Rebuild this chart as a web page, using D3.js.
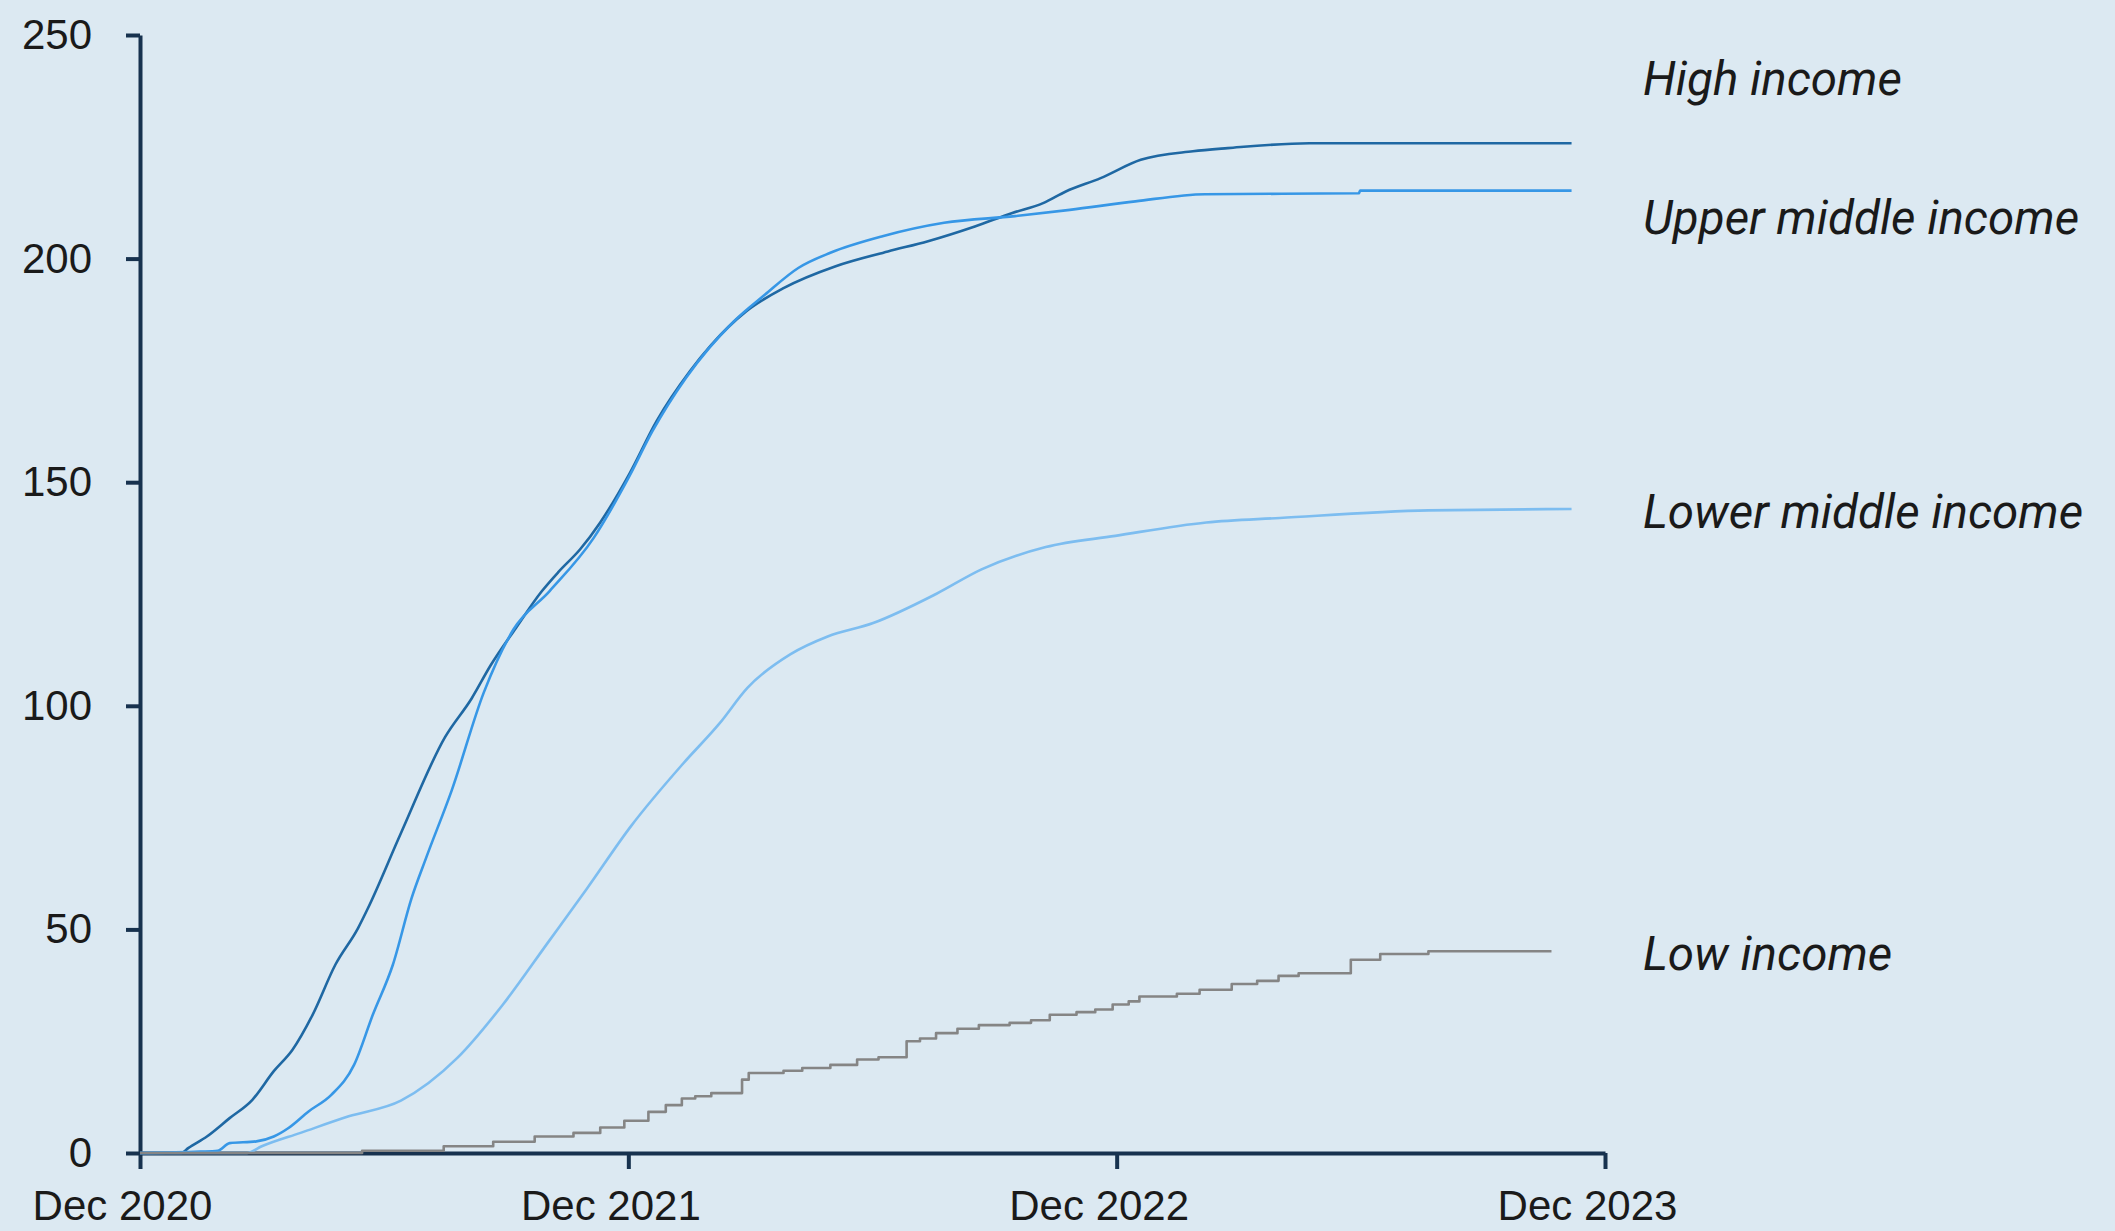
<!DOCTYPE html>
<html>
<head>
<meta charset="utf-8">
<script src="https://cdn.jsdelivr.net/npm/d3@7"></script>
<style>
  html, body { margin: 0; padding: 0; background: #dce9f2; }
  svg { display: block; }
</style>
</head>
<body>
<div id="chart"></div>
<script>
// cumulative counts by income group, Dec 2020 – Dec 2023

const yTicks = [0, 50, 100, 150, 200, 250];
const xTicks = ["2020-12-01", "2021-12-01", "2022-12-01", "2023-12-01"];

const highDates = ["2020-12-01","2021-01-01","2021-01-06","2021-01-20","2021-02-06","2021-02-23","2021-03-11","2021-03-25","2021-04-09","2021-04-26","2021-05-13","2021-05-20","2021-06-14","2021-07-17","2021-08-06","2021-08-20","2021-09-08","2021-09-27","2021-10-10","2021-10-26","2021-11-10","2021-12-02","2021-12-22","2022-01-16","2022-02-01","2022-02-27","2022-03-27","2022-05-05","2022-06-13","2022-07-13","2022-08-17","2022-09-14","2022-10-07","2022-10-24","2022-11-19","2022-12-19","2023-01-27","2023-02-22","2023-04-24","2023-11-06"];
const highValues = [0,0,1.1,3.7,7.8,11.9,18.3,23.1,30.9,42.1,50.3,54.5,71.5,93.0,101.7,109.0,117.4,125.5,130,135,141,152,163.6,174.8,180.7,188.2,193.4,198.3,201.6,203.9,207.2,210.2,212.4,215.0,218.0,222.1,224.0,224.7,225.8,225.8];

const upperDates = ["2020-12-01","2021-01-15","2021-01-28","2021-02-06","2021-02-26","2021-03-11","2021-03-22","2021-04-06","2021-04-23","2021-05-10","2021-05-24","2021-06-08","2021-06-22","2021-07-03","2021-07-22","2021-08-15","2021-09-06","2021-10-03","2021-11-05","2021-12-01","2021-12-19","2022-01-13","2022-02-18","2022-03-13","2022-04-07","2022-05-01","2022-06-09","2022-07-25","2022-09-16","2022-10-27","2022-12-15","2023-02-05","2023-05-31","2023-06-01","2023-11-06"];
const upperValues = [0,0.3,0.5,2.2,2.6,3.7,5.6,9.3,13.0,19.7,30.9,42.1,57,66.1,81.1,103.0,117.0,125.6,137.5,150.9,161.4,173.3,186.0,191.9,197.9,201.3,205.0,208.0,209.5,210.9,212.8,214.4,214.6,215.2,215.2];

const lowerDates = ["2020-12-01","2021-02-19","2021-03-02","2021-03-31","2021-05-06","2021-06-14","2021-07-26","2021-08-29","2021-10-02","2021-10-31","2021-12-03","2022-01-11","2022-02-07","2022-02-28","2022-04-01","2022-04-29","2022-06-02","2022-07-19","2022-08-22","2022-10-09","2022-11-30","2023-02-06","2023-04-02","2023-07-22","2023-11-06"];
const lowerValues = [0,0,1.5,4.5,8.2,11.7,21.2,33.1,47.1,59.1,73.1,87.1,96.0,104.0,111.5,115.5,118.5,125.0,130.5,135.5,138.0,141.0,142.0,143.7,144.0];

const lowDates = ["2020-12-01","2021-04-01","2021-05-16","2021-07-16","2021-08-22","2021-09-22","2021-10-21","2021-11-10","2021-11-28","2021-12-16","2021-12-29","2022-01-10","2022-01-20","2022-02-01","2022-02-24","2022-03-01","2022-03-27","2022-04-10","2022-05-01","2022-05-21","2022-06-06","2022-06-27","2022-07-07","2022-07-19","2022-08-04","2022-08-20","2022-09-12","2022-09-28","2022-10-12","2022-11-01","2022-11-15","2022-11-28","2022-12-10","2022-12-18","2023-01-15","2023-02-01","2023-02-25","2023-03-16","2023-04-01","2023-04-16","2023-05-25","2023-06-16","2023-07-22","2023-10-22"];
const lowValues = [0,0,0.5,1.5,2.5,3.7,4.5,5.7,7.2,9.2,10.7,12.2,12.7,13.4,16.4,17.9,18.4,19.0,19.7,20.9,21.4,25.0,25.6,26.8,27.8,28.6,29.1,29.7,30.9,31.5,32.1,33.2,33.9,35.0,35.6,36.5,37.8,38.5,39.6,40.2,43.2,44.5,45.1,45.1];

const seriesNames = ["High income", "Upper middle income", "Lower middle income", "Low income"];

const parse = d3.timeParse("%Y-%m-%d");
const toPoints = (dates, values) => dates.map((d, i) => ({ date: parse(d), value: values[i] }));

const series = [
  { name: seriesNames[0], points: toPoints(highDates, highValues), color: "#1f68a3", curve: d3.curveMonotoneX, labelY: 95 },
  { name: seriesNames[1], points: toPoints(upperDates, upperValues), color: "#3797e6", curve: d3.curveMonotoneX, labelY: 234 },
  { name: seriesNames[2], points: toPoints(lowerDates, lowerValues), color: "#7dbdf0", curve: d3.curveMonotoneX, labelY: 528 },
  { name: seriesNames[3], points: toPoints(lowDates, lowValues), color: "#858585", curve: d3.curveStepAfter, labelY: 970 }
];

const W = 2115, H = 1231;
const svg = d3.select("#chart")
  .append("svg")
  .attr("width", W)
  .attr("height", H);

svg.append("rect")
  .attr("width", W)
  .attr("height", H)
  .attr("fill", "#dce9f2");

const x = d3.scaleTime()
  .domain([parse(xTicks[0]), parse(xTicks[xTicks.length - 1])])
  .range([140, 1605]);

const y = d3.scaleLinear()
  .domain([0, 250])
  .range([1153, 35]);

const axisColor = "#17324f";

// ===== AXES =====
const gy = svg.append("g")
  .attr("transform", `translate(${x.range()[0]},0)`)
  .call(d3.axisLeft(y).tickValues(yTicks).tickSize(14).tickSizeOuter(0).tickPadding(34));

const gx = svg.append("g")
  .attr("transform", `translate(0,${y(0)})`)
  .call(d3.axisBottom(x)
    .tickValues(xTicks.map(parse))
    .tickSize(16)
    .tickSizeOuter(0)
    .tickPadding(21)
    .tickFormat(d3.timeFormat("%b %Y")));

[gx, gy].forEach(g => {
  g.select(".domain").attr("stroke", axisColor).attr("stroke-width", 4);
  g.selectAll(".tick line").attr("stroke", axisColor).attr("stroke-width", 4);
  g.selectAll("text")
    .attr("fill", "#1a1a1a")
    .style("font-family", "'Liberation Sans', Arial, sans-serif")
    .style("font-size", "42px");
});
gx.selectAll("text").attr("dx", -18);

// ===== LINES =====
series.forEach(s => {
  const line = d3.line()
    .x(d => x(d.date))
    .y(d => y(d.value))
    .curve(s.curve);

  svg.append("path")
    .datum(s.points)
    .attr("fill", "none")
    .attr("stroke", s.color)
    .attr("stroke-width", 2.6)
    .attr("stroke-linejoin", "round")
    .attr("d", line);

  svg.append("text")
    .attr("x", 1643)
    .attr("y", s.labelY)
    .text(s.name)
    .style("font-family", "Roboto, 'Noto Sans', sans-serif")
    .style("font-style", "italic")
    .style("font-size", "47.5px")
    .style("fill", "#1a1a1a");
});
</script>
</body>
</html>
